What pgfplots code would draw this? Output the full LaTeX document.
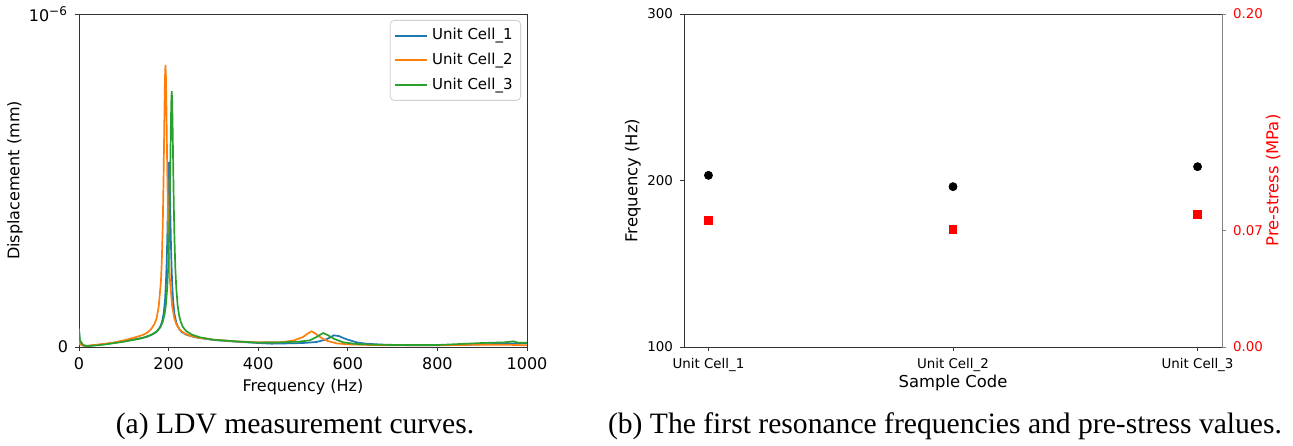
\documentclass[border=0pt]{standalone}
\usepackage{pgfplots}
\pgfplotsset{compat=1.18}
\usepackage{fontspec}
\setmainfont{DejaVu Sans}
\newfontfamily\capfont{Liberation Serif}
\definecolor{tabblue}{HTML}{1F77B4}
\definecolor{taborange}{HTML}{FF7F0E}
\definecolor{tabgreen}{HTML}{2CA02C}
\begin{document}
\begin{tikzpicture}
\useasboundingbox (0,0) rectangle (646.5pt,222.5pt);
% ---------------- (a) ----------------
\begin{axis}[
  at={(39.5pt,49pt)}, anchor=south west,
  scale only axis, width=224pt, height=166.5pt,
  xmin=0, xmax=1000, ymin=0, ymax=1,
  xtick={0,200,400,600,800,1000},
  xticklabels={0,200,400,600,800,1000},
  ytick={0,1},
  yticklabels={0,10\textsuperscript{−6}},
  xtick pos=bottom, ytick pos=left,
  tick align=outside, major tick length=2pt,
  axis line style={line width=0.45pt, black!80},
  every tick/.style={black!80, line width=0.45pt},
  ticklabel style={font=\fontsize{8}{9.6}\selectfont},
  label style={font=\fontsize{8}{9.6}\selectfont},
  xlabel={Frequency (Hz)},
  ylabel={Displacement (mm)},
  xlabel style={at={(axis description cs:0.5,-0.12)}, anchor=center},
  ylabel style={at={(axis description cs:-0.143,0.5)}, anchor=center},
  legend style={at={(1,1)}, xshift=-3pt, yshift=-3pt, anchor=north east,
    draw=black!18, rounded corners=2pt, font=\fontsize{7.5}{9}\selectfont,
    cells={anchor=west}, row sep=1.2pt, inner sep=2pt},
  legend image code/.code={\draw[#1, line width=1pt] (0pt,0pt) -- (16pt,0pt);},
  every axis plot/.append style={line width=0.85pt},
]
\addplot[tabblue] coordinates {
(0,0.05) (2,0.015) (10,0.004) (20,0.003) (40,0.006) (60,0.009) (80,0.013)
(100,0.017) (120,0.022) (140,0.027) (150,0.030) (161,0.036) (173,0.045)
(181,0.060) (185,0.074) (189,0.10) (192,0.14) (194,0.19) (196,0.268)
(197,0.325) (198,0.395) (199,0.468) (200,0.530) (201,0.555) (202,0.530)
(203,0.468) (204,0.395) (205,0.325) (206,0.268) (208,0.19) (210,0.14)
(213,0.10) (217,0.074) (221,0.060) (229,0.045) (241,0.036) (260,0.029)
(300,0.021) (350,0.016) (400,0.012) (430,0.010) (470,0.011) (500,0.012)
(530,0.015) (550,0.022) (563,0.030) (568,0.035) (574,0.034) (580,0.033) (590,0.027)
(600,0.022) (620,0.014) (640,0.010) (680,0.007) (750,0.005) (850,0.006)
(900,0.008) (950,0.010) (1000,0.011)
};
\addlegendentry{Unit Cell\_1}
\addplot[taborange] coordinates {
(0,0.03) (2,0.008) (10,0.004) (20,0.004) (40,0.007) (60,0.010) (80,0.014)
(100,0.020) (120,0.027) (140,0.035) (150,0.041) (160,0.052) (168,0.068)
(173,0.085) (178,0.122) (183,0.200) (185,0.265) (187,0.368) (189,0.528)
(190,0.630) (191,0.733) (192,0.813) (193,0.847) (194,0.813) (195,0.733)
(196,0.630) (197,0.528) (199,0.368) (201,0.265) (203,0.200) (208,0.122)
(213,0.085) (218,0.066) (225,0.052) (235,0.041) (250,0.033) (270,0.027)
(300,0.022) (350,0.017) (400,0.014) (450,0.014) (480,0.020) (500,0.030)
(510,0.040) (519,0.047) (528,0.040) (540,0.028) (555,0.018) (575,0.011)
(600,0.008) (650,0.006) (700,0.005) (800,0.005) (900,0.007) (950,0.007)
(1000,0.005)
};
\addlegendentry{Unit Cell\_2}
\addplot[tabgreen] coordinates {
(0,0.055) (2,0.020) (10,0.005) (20,0.003) (40,0.005) (60,0.008) (80,0.012)
(100,0.016) (120,0.021) (140,0.026) (162,0.037) (175,0.048) (182,0.060)
(187,0.076) (191,0.098) (194,0.127) (197,0.180) (199,0.238) (201,0.330)
(202,0.396) (203,0.476) (204,0.568) (205,0.662) (206,0.736) (207,0.768)
(208,0.736) (209,0.662) (210,0.568) (211,0.476) (212,0.396) (213,0.330)
(215,0.238) (217,0.180) (220,0.127) (223,0.098) (227,0.076) (232,0.060)
(239,0.048) (252,0.037) (270,0.029) (300,0.022) (350,0.017) (400,0.013)
(450,0.014) (490,0.016) (515,0.020) (530,0.030) (545,0.042) (555,0.036)
(570,0.024) (590,0.014) (620,0.009) (660,0.007) (700,0.006) (800,0.006)
(850,0.009) (900,0.012) (950,0.014) (970,0.017) (980,0.013) (1000,0.013)
};
\addlegendentry{Unit Cell\_3}
\end{axis}
% ---------------- (b) ----------------
\begin{axis}[
  at={(342pt,49pt)}, anchor=south west,
  scale only axis, width=269pt, height=166.5pt,
  xmin=-0.1, xmax=2.1, ymin=100, ymax=300,
  xtick={0,1,2},
  xticklabels={Unit Cell\_1,Unit Cell\_2,Unit Cell\_3},
  ytick={100,200,300},
  yticklabels={100,200,300},
  xtick pos=bottom, ytick pos=left,
  tick align=outside, major tick length=2pt,
  axis line style={line width=0.45pt, black!80},
  every tick/.style={black!80, line width=0.45pt},
  ticklabel style={font=\fontsize{6.7}{8}\selectfont},
  label style={font=\fontsize{8.2}{9.8}\selectfont},
  xlabel={Sample Code},
  ylabel={Frequency (Hz)},
  xlabel style={at={(axis description cs:0.5,-0.108)}, anchor=center},
  ylabel style={at={(axis description cs:-0.095,0.5)}, anchor=center},
]
\addplot[only marks, mark=*, mark size=2pt, black] coordinates {
(0,203.1) (1,196.3) (2,208.3)
};
\end{axis}
\begin{axis}[
  at={(342pt,49pt)}, anchor=south west,
  scale only axis, width=269pt, height=166.5pt,
  xmin=-0.1, xmax=2.1, ymin=0, ymax=0.2,
  axis x line=none,
  axis y line*=right,
  ytick={0,0.07,0.2},
  yticklabels={0.00,0.07,0.20},
  tick align=outside, major tick length=2pt,
  axis line style={line width=0.45pt, black!50},
  every tick/.style={black!50, line width=0.45pt},
  ticklabel style={font=\fontsize{6.7}{8}\selectfont, red},
  label style={font=\fontsize{8.2}{9.8}\selectfont, red},
  ylabel={Pre-stress (MPa)},
  ylabel style={at={(axis description cs:1.095,0.5)}, anchor=center},
]
\addplot[only marks, mark=square*, mark size=1.9pt, red] coordinates {
(0,0.076) (1,0.0705) (2,0.0795)
};
\end{axis}
% ---------------- captions ----------------
\node[anchor=base, font=\capfont\fontsize{14.8}{17}\selectfont, inner sep=0pt] at (147.5pt,6pt) {(a) LDV measurement curves.};
\node[anchor=base, font=\capfont\fontsize{14.8}{17}\selectfont, inner sep=0pt] at (472.5pt,6pt) {(b) The first resonance frequencies and pre-stress values.};
\end{tikzpicture}
\end{document}
